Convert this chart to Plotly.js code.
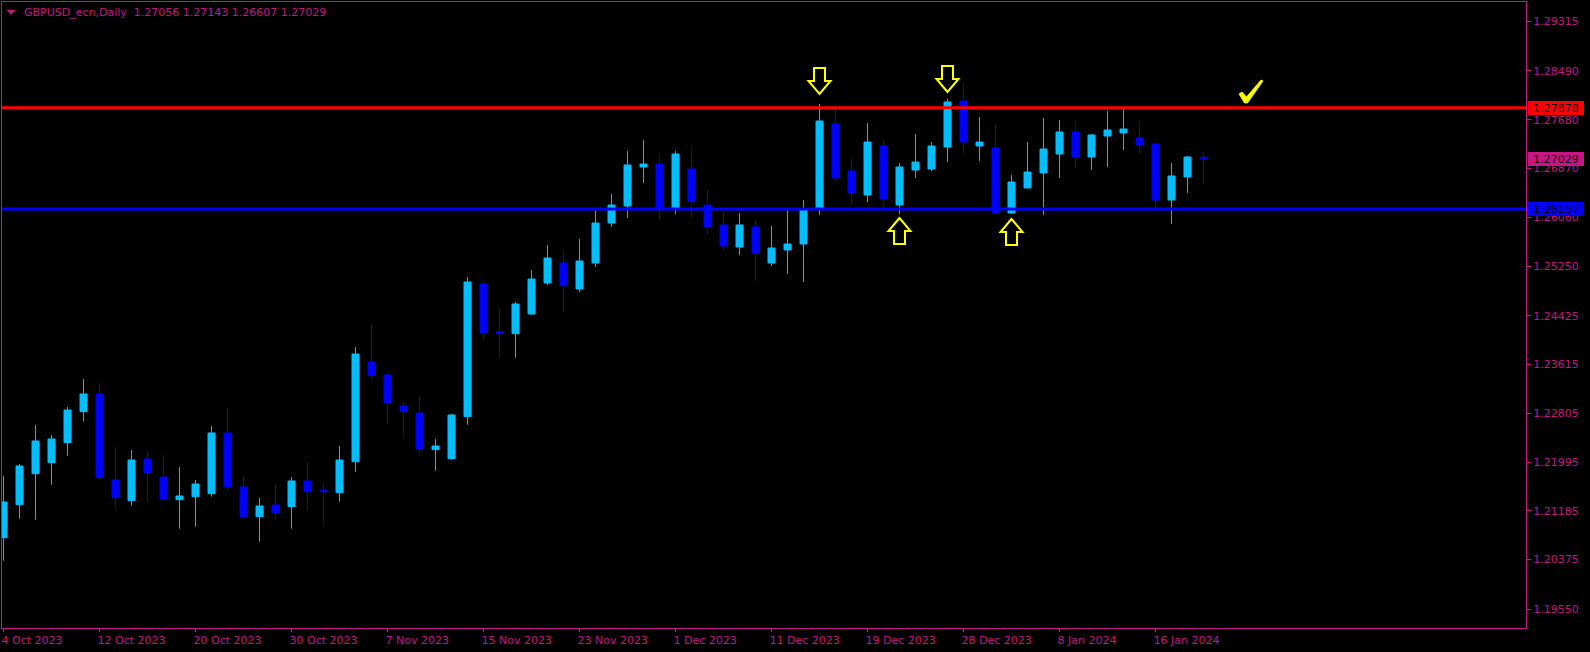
<!DOCTYPE html>
<html><head><meta charset="utf-8">
<script src="https://cdn.plot.ly/plotly-3.0.1.min.js"></script>
<style>html,body{margin:0;padding:0;background:#000;overflow:hidden}#chart{width:1590px;height:652px}</style>
</head><body><div id="chart"></div>
<script>
const symbolName = 'GBPUSD_ecn,Daily';
const dates = ['2023-10-04','2023-10-05','2023-10-06','2023-10-09','2023-10-10','2023-10-11','2023-10-12','2023-10-13','2023-10-16','2023-10-17','2023-10-18','2023-10-19','2023-10-20','2023-10-23','2023-10-24','2023-10-25','2023-10-26','2023-10-27','2023-10-30','2023-10-31',
'2023-11-01','2023-11-02','2023-11-03','2023-11-06','2023-11-07','2023-11-08','2023-11-09','2023-11-10','2023-11-13','2023-11-14','2023-11-15','2023-11-16','2023-11-17','2023-11-20','2023-11-21','2023-11-22','2023-11-23','2023-11-24','2023-11-27','2023-11-28','2023-11-29','2023-11-30',
'2023-12-01','2023-12-04','2023-12-05','2023-12-06','2023-12-07','2023-12-08','2023-12-11','2023-12-12','2023-12-13','2023-12-14','2023-12-15','2023-12-18','2023-12-19','2023-12-20','2023-12-21','2023-12-22','2023-12-26','2023-12-27','2023-12-28','2023-12-29',
'2024-01-02','2024-01-03','2024-01-04','2024-01-05','2024-01-08','2024-01-09','2024-01-10','2024-01-11','2024-01-12','2024-01-15','2024-01-16','2024-01-17','2024-01-18','2024-01-19'];
const open = [1.20739,1.21287,1.21802,1.21985,1.22317,1.22832,1.23126,1.21697,1.21354,1.22046,1.21747,1.21370,1.21420,1.21470,1.22478,1.21581,1.21088,1.21282,1.21254,1.21681,
1.21531,1.21486,1.22001,1.23657,1.23441,1.22926,1.22810,1.22201,1.22051,1.22749,1.24952,1.24160,1.24127,1.24454,1.24969,1.25301,1.24869,1.25301,1.25965,1.26248,1.26895,1.26945,
1.26214,1.26862,1.26264,1.25932,1.25567,1.25899,1.25301,1.25517,1.25617,1.26219,1.27609,1.26829,1.26430,1.27244,1.26264,1.26845,1.26862,1.27227,1.27991,1.27244,
1.27211,1.26131,1.26547,1.26796,1.27111,1.27477,1.27061,1.27410,1.27460,1.27377,1.27277,1.26347,1.26729,1.27056];
const high = [1.21764,1.21963,1.22611,1.22445,1.22910,1.23375,1.23308,1.22245,1.22196,1.22162,1.22112,1.21913,1.21697,1.22594,1.22893,1.21764,1.21398,1.21631,1.21747,1.22013,
1.21647,1.22262,1.23906,1.24288,1.23474,1.23009,1.23092,1.22378,1.22793,1.25069,1.25002,1.24554,1.24653,1.25185,1.25600,1.25500,1.25700,1.26165,1.26447,1.27161,1.27344,1.27111,
1.27161,1.27244,1.26530,1.26148,1.26131,1.26015,1.25916,1.26165,1.26347,1.27942,1.27859,1.27045,1.27626,1.27344,1.26962,1.27443,1.27310,1.28025,1.28290,1.27726,
1.27609,1.26762,1.27310,1.27709,1.27676,1.27659,1.27443,1.27825,1.27859,1.27659,1.27294,1.26962,1.27078,1.27143];
const low = [1.20357,1.21055,1.21038,1.21619,1.22101,1.22666,1.21702,1.21204,1.21271,1.21320,1.21354,1.20889,1.20922,1.21420,1.21520,1.21055,1.20673,1.21038,1.20889,1.21188,
1.20938,1.21337,1.21835,1.23363,1.22616,1.22400,1.22118,1.21852,1.22034,1.22616,1.24027,1.23740,1.23728,1.24438,1.24936,1.24476,1.24820,1.25235,1.25899,1.26048,1.26630,1.26015,
1.26115,1.26032,1.25766,1.25500,1.25434,1.25002,1.25251,1.25118,1.24986,1.26098,1.26663,1.26281,1.26314,1.26231,1.26115,1.26713,1.26829,1.26978,1.27111,1.26995,
1.26098,1.26115,1.26547,1.26098,1.26713,1.26879,1.26845,1.26895,1.27178,1.27111,1.26214,1.25949,1.26464,1.26607];
const close = [1.21332,1.21930,1.22345,1.22378,1.22860,1.23126,1.21736,1.21403,1.22029,1.21819,1.21382,1.21432,1.21631,1.22478,1.21586,1.21088,1.21266,1.21154,1.21681,1.21503,
1.21503,1.22029,1.23790,1.23429,1.22976,1.22832,1.22212,1.22262,1.22777,1.24986,1.24144,1.24127,1.24620,1.25035,1.25384,1.24924,1.25334,1.25965,1.26264,1.26929,1.26945,1.26206,
1.27111,1.26319,1.25899,1.25583,1.25932,1.25467,1.25550,1.25617,1.26198,1.27659,1.26713,1.26464,1.27310,1.26364,1.26895,1.26978,1.27244,1.27975,1.27310,1.27310,
1.26131,1.26646,1.26812,1.27194,1.27477,1.27061,1.27427,1.27510,1.27526,1.27261,1.26347,1.26746,1.27061,1.27029];

const tickDates = ['2023-10-04','2023-10-12','2023-10-20','2023-10-30','2023-11-07','2023-11-15','2023-11-23','2023-12-01','2023-12-11','2023-12-19','2023-12-28','2024-01-08','2024-01-16'];
const tickLabels = ['4 Oct 2023','12 Oct 2023','20 Oct 2023','30 Oct 2023','7 Nov 2023','15 Nov 2023','23 Nov 2023','1 Dec 2023','11 Dec 2023','19 Dec 2023','28 Dec 2023','8 Jan 2024','16 Jan 2024'];
const priceTicks = [1.29315,1.28490,1.27680,1.26870,1.26060,1.25250,1.24425,1.23615,1.22805,1.21995,1.21185,1.20375,1.19550];

const resistance = 1.27878;
const support = 1.26197;
const arrowMarks = [
  {date:'2023-12-14', dir:'down', gap:10},
  {date:'2023-12-27', dir:'down', gap:7},
  {date:'2023-12-21', dir:'up', gap:4},
  {date:'2024-01-03', dir:'up', gap:5}
];

const FG = '#C71585';
const BULL = '#00BFFF', BEAR = '#0000FF';
const FONT = 'DejaVu Sans';

const trace = {
  type:'candlestick', x:dates, open:open, high:high, low:low, close:close,
  increasing:{line:{color:BULL,width:1}, fillcolor:BULL},
  decreasing:{line:{color:BEAR,width:1}, fillcolor:BEAR},
  whiskerwidth:0, hoverinfo:'skip', showlegend:false
};

function arrowPath(dir, g){
  const pts = [[0,0],[-11,13],[-5.5,13],[-5.5,26],[5.5,26],[5.5,13],[11,13]];
  const s = dir==='down' ? 1 : -1;
  return 'M' + pts.map(p=>p[0]+','+(s*(p[1]+g))).join(' L') + ' Z';
}
const shapes = [
  {type:'line', xref:'paper', x0:0, x1:1, yref:'y', y0:resistance, y1:resistance, line:{color:'#FF0000', width:3}},
  {type:'line', xref:'paper', x0:0, x1:1, yref:'y', y0:support, y1:support, line:{color:'#0000FF', width:3}}
];
arrowMarks.forEach(a=>{
  const i = dates.indexOf(a.date);
  shapes.push({type:'path', xref:'x', yref:'y', xsizemode:'pixel', ysizemode:'pixel',
    xanchor:a.date, yanchor: a.dir==='down' ? high[i] : low[i],
    path: arrowPath(a.dir, a.gap), fillcolor:'#000000', line:{color:'#FFFF00', width:2}, layer:'above'});
});
function absPath(pts){
  return 'M' + pts.map(p=>(p[0]-2)+','+(2-p[1])).join(' L') + ' Z';
}
shapes.push({type:'path', xref:'paper', yref:'paper', xsizemode:'pixel', ysizemode:'pixel', xanchor:0, yanchor:1,
  path: absPath([[1239,94],[1242,92],[1246.5,97],[1261,80],[1263,81],[1247.5,103],[1244.5,103]]),
  fillcolor:'#FFFF00', line:{color:'#FFFF00', width:0.8}});
shapes.push({type:'path', xref:'paper', yref:'paper', xsizemode:'pixel', ysizemode:'pixel', xanchor:0, yanchor:1,
  path: absPath([[7,10],[15,10],[11,14.5]]), fillcolor:FG, line:{color:FG, width:0.5}});

const last = dates.length-1;
const sp = '\u00A0';
const titleText = symbolName + sp + sp + [open[last],high[last],low[last],close[last]].map(v=>v.toFixed(5)).join(sp);

function priceLabel(v, bg){
  return {xref:'paper', x:1, xanchor:'left', xshift:2, yref:'y', y:v, yanchor:'middle',
    text:v.toFixed(5), showarrow:false, bgcolor:bg, borderwidth:0, borderpad:1, width:54, height:12,
    align:'center', font:{family:FONT, size:11, color:'#000000'}};
}
const annotations = [
  {xref:'paper', yref:'paper', x:0.01293, y:1, xanchor:'left', yanchor:'middle', yshift:-10.7,
   text:titleText, showarrow:false, font:{family:FONT, size:11, color:FG}},
  priceLabel(resistance, '#FF0000'),
  priceLabel(close[last], FG),
  priceLabel(support, '#0000FF')
];

const layout = {
  width:1590, height:652, margin:{l:2, r:64, t:2, b:24},
  paper_bgcolor:'#000000', plot_bgcolor:'#000000',
  boxgap:0.375, showlegend:false, dragmode:false,
  font:{family:FONT, size:11, color:FG},
  xaxis:{type:'category', range:[-0.094, 95.156], autorange:false, rangeslider:{visible:false},
    showgrid:false, zeroline:false, showline:true, linecolor:FG, linewidth:1, mirror:true,
    ticks:'outside', ticklen:3, tickcolor:FG, tickwidth:1,
    tickvals:tickDates, ticktext:tickLabels, ticklabelposition:'outside right',
    ticklabelshift:-3, ticklabelstandoff:2,
    tickfont:{family:FONT, size:11, color:FG}},
  yaxis:{side:'right', range:[1.192395, 1.296355], autorange:false,
    showgrid:false, zeroline:false, showline:true, linecolor:FG, linewidth:1, mirror:true,
    ticks:'outside', ticklen:4, tickcolor:FG, tickwidth:1,
    tickvals:priceTicks, ticktext:priceTicks.map(v=>v.toFixed(5)),
    tickfont:{family:FONT, size:11, color:FG}},
  shapes:shapes, annotations:annotations
};
Plotly.newPlot('chart', [trace], layout, {staticPlot:true, displayModeBar:false});
</script></body></html>
